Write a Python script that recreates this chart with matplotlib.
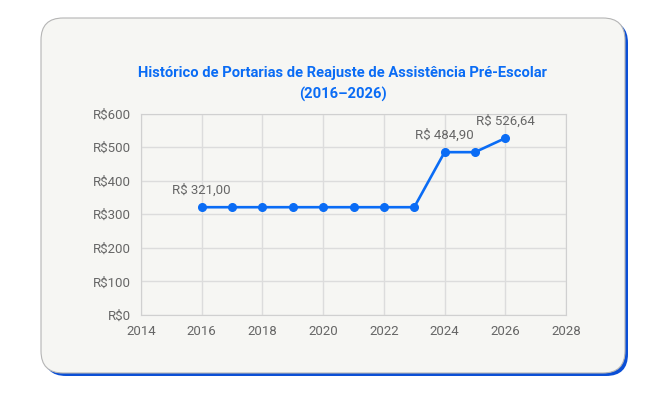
import matplotlib
matplotlib.use("Agg")
import matplotlib.pyplot as plt
from matplotlib.patches import FancyBboxPatch
from matplotlib.ticker import FuncFormatter

plt.rcParams['font.family'] = ['Roboto', 'DejaVu Sans']

# Data
years = [2016, 2017, 2018, 2019, 2020, 2021, 2022, 2023, 2024, 2025, 2026]
values = [321.00, 321.00, 321.00, 321.00, 321.00, 321.00, 321.00, 321.00, 484.90, 484.90, 526.64]
labeled_years = [2016, 2024, 2026]
title = "Histórico de Portarias de Reajuste de Assistência Pré-Escolar\n(2016–2026)"

blue = '#0a6cf5'
gray_text = '#666666'

fig = plt.figure(figsize=(6.63, 3.98), dpi=100)
fig.patch.set_facecolor('white')

# card background in pixel coordinates
bg = fig.add_axes([0, 0, 1, 1], zorder=0)
bg.set_xlim(0, 663)
bg.set_ylim(398, 0)
bg.axis('off')
shadow = FancyBboxPatch((44, 21), 584, 355, boxstyle="round,pad=0,rounding_size=22",
                        facecolor='#0b4fd6', edgecolor='none')
card = FancyBboxPatch((41, 18), 584, 355, boxstyle="round,pad=0,rounding_size=22",
                      facecolor='#f6f6f3', edgecolor='#b5b5b5', linewidth=0.8)
bg.add_patch(shadow)
bg.add_patch(card)

ax = fig.add_axes([0.2127, 0.2085, 0.6410, 0.5063], zorder=1)
ax.set_facecolor('none')
ax.plot(years, values, color=blue, linewidth=1.9, marker='o', markersize=5.5, zorder=3,
        clip_on=False)

for y, v in zip(years, values):
    if y in labeled_years:
        txt = "R$ " + f"{v:,.2f}".replace(',', 'X').replace('.', ',').replace('X', '.')
        ax.annotate(txt, (y, v), xytext=(0, 7.5), textcoords='offset points',
                    ha='center', va='bottom', fontsize=9.5, color=gray_text)

ax.set_xlim(2014, 2028)
ax.set_ylim(0, 600)
ax.set_xticks(range(2014, 2029, 2))
ax.set_yticks(range(0, 601, 100))
ax.yaxis.set_major_formatter(FuncFormatter(lambda v, p: f"R${v:.0f}"))
ax.grid(True, color='#dcdcdc', linewidth=1.0)
ax.set_axisbelow(True)
for s in ax.spines.values():
    s.set_color('#d0d0d0')
ax.tick_params(length=0, labelsize=9.5, labelcolor=gray_text, pad=7)

fig.text(0.5165, 0.789, title, ha='center', va='center', fontsize=10.6,
         fontweight='bold', color=blue, linespacing=1.65)

fig.savefig('out.png', dpi=100)
